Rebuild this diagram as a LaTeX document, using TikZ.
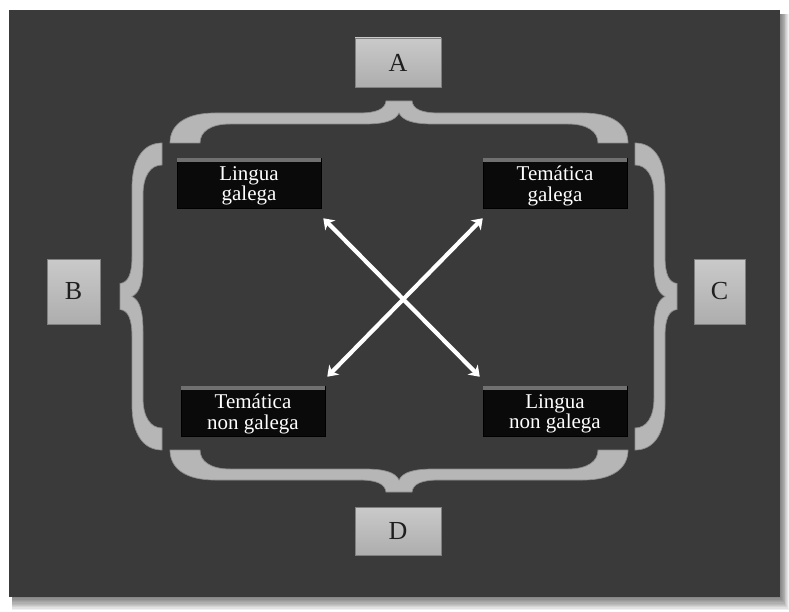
\documentclass[tikz,border=0pt]{standalone}
\usepackage{fontspec}
\setmainfont{Liberation Serif}
\usetikzlibrary{arrows.meta,calc}
\definecolor{panelgray}{RGB}{58,58,58}
\definecolor{bracegray}{RGB}{182,182,182}
\definecolor{braceedge}{RGB}{140,140,140}
\definecolor{darkbox}{RGB}{10,10,10}
\definecolor{boxstrip}{RGB}{112,112,112}
% curly brace along local x in [-#1,#1], ends at y=0, tip towards +y; #2 = end cap width
\newcommand\bracefill[2]{%
  \fill[bracestyle] (-#1,0) .. controls (-#1,18) and (-#1+15,30) .. (-#1+45,30)
    -- (-40,30) .. controls (-22,30) and (-14,34) .. (-13,42)
    -- (13,42) .. controls (14,34) and (22,30) .. (40,30)
    -- (#1-45,30) .. controls (#1-15,30) and (#1,18) .. (#1,0)
    -- (#1-#2,0) .. controls (#1-#2,11) and (#1-#2-10,19) .. (#1-#2-30,19)
    -- (35,19) .. controls (15,19) and (4,22) .. (0,30)
    .. controls (-4,22) and (-15,19) .. (-35,19)
    -- (-#1+#2+30,19) .. controls (-#1+#2+10,19) and (-#1+#2,11) .. (-#1+#2,0)
    -- cycle;}
\begin{document}
\begin{tikzpicture}[x=1pt,y=-1pt,
  bracestyle/.style={fill=bracegray, draw=braceedge, line width=0.7pt},
  keybox/.style={draw=black!50, line width=0.6pt, top color=black!21, bottom color=black!32,
    inner sep=0pt, font=\fontsize{26}{28}\selectfont, text=black!88},
  topicbox/.style={fill=darkbox, draw=black, line width=0.5pt, inner sep=0pt,
    minimum width=144pt, minimum height=50pt},
  topictext/.style={align=center, text=white, inner sep=0pt,
    font=\fontsize{21}{20.5}\selectfont},
  xarrow/.style={draw=white, line width=4.2pt,
    {Stealth[length=10pt,width=14pt,inset=3pt]}-{Stealth[length=10pt,width=14pt,inset=3pt]}}]
\useasboundingbox (0,0) rectangle (789,612);
\fill[white] (0,0) rectangle (789,612);

% soft shadow of the panel
\foreach \k in {1,...,10}
  \fill[black, opacity=0.06] (12,14) rectangle (780+0.9*\k, 597+1.3*\k);
% panel
\fill[panelgray] (9,10) rectangle (780,597);

% braces
\begin{scope}[shift={(399,143)}, x={(1pt,0pt)}, y={(0pt,1pt)}]
  \bracefill{229}{30}
\end{scope}
\begin{scope}[shift={(399,450)}, x={(1pt,0pt)}, y={(0pt,-1pt)}]
  \bracefill{229}{30}
\end{scope}
\begin{scope}[shift={(162,296.5)}, x={(0pt,1pt)}, y={(-1pt,0pt)}]
  \bracefill{153.5}{22}
\end{scope}
\begin{scope}[shift={(635,296.5)}, x={(0pt,1pt)}, y={(1pt,0pt)}]
  \bracefill{153.5}{22}
\end{scope}

% letter boxes
\node[keybox, minimum width=86pt, minimum height=49pt] (A) at (398,62.5) {A};
\node[keybox, minimum width=86pt, minimum height=48pt] (D) at (398,531) {D};
\node[keybox, minimum width=53pt, minimum height=65pt] (B) at (73.5,291.5) {B};
\node[keybox, minimum width=51pt, minimum height=65pt] (C) at (719.5,291.5) {C};

% topic boxes
\node[topicbox] (lg)  at (249,183) {};
\node[topicbox] (tg)  at (555,183) {};
\node[topicbox] (tng) at (253,411) {};
\node[topicbox] (lng) at (555,411) {};
\foreach \b in {lg,tg,tng,lng}
  \fill[boxstrip] (\b.north west) rectangle ($(\b.north east)+(0,4)$);
\node[topictext] (lg-t)  at ($(lg)+(0,3)$)  {Lingua\\galega};
\node[topictext] (tg-t)  at ($(tg)+(0,3)$)  {Temática\\galega};
\node[topictext] (tng-t) at ($(tng)+(0,3)$) {Temática\\non galega};
\node[topictext] (lng-t) at ($(lng)+(0,3)$) {Lingua\\non galega};

% crossing double arrows
\coordinate (p1) at ($(lg.south east)+(2,10)$);
\coordinate (p2) at ($(lng.north west)+(-3,-9)$);
\coordinate (p3) at ($(tg.south west)+(0,10)$);
\coordinate (p4) at ($(tng.north east)+(2,-9)$);
\draw[xarrow] (p1) -- (p2);
\draw[xarrow] (p3) -- (p4);
\end{tikzpicture}
\end{document}
